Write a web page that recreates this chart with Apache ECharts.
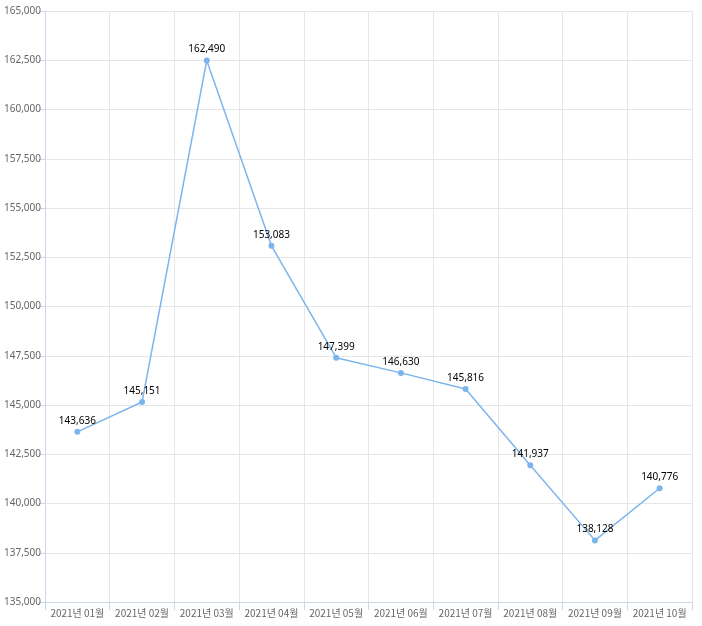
<!DOCTYPE html>
<html><head><meta charset="utf-8">
<script src="https://cdn.jsdelivr.net/npm/echarts@6/dist/echarts.min.js"></script>
<style>html,body{margin:0;padding:0;background:#fff}#c{width:702px;height:626px}</style>
</head><body><div id="c"></div>
<script>
const categories = ['2021년 01월','2021년 02월','2021년 03월','2021년 04월','2021년 05월','2021년 06월','2021년 07월','2021년 08월','2021년 09월','2021년 10월'];
const values = [143636,145151,162490,153083,147399,146630,145816,141937,138128,140776];
const yMin = 135000, yMax = 165000, yStep = 2500;

const chart = echarts.init(document.getElementById('c'), null, {renderer:'canvas'});
const fmt = v => v.toLocaleString('en-US');
chart.setOption({
  animation:false,
  grid:{left:45,right:10,top:11,bottom:24,containLabel:false},
  xAxis:{type:'category',data:categories,boundaryGap:true,
    axisLine:{show:true,lineStyle:{color:'#ccd6eb',width:1}},
    axisTick:{show:true,alignWithLabel:false,length:8,lineStyle:{color:'#ccd6eb'}},
    axisLabel:{color:'#666',fontSize:10,fontFamily:'Noto Sans CJK KR',margin:6,interval:0},
    splitLine:{show:true,lineStyle:{color:'#e6e6e6'}}},
  yAxis:{type:'value',min:yMin,max:yMax,interval:yStep,
    axisLine:{show:true,lineStyle:{color:'#ccd6eb'}},
    axisTick:{show:true,length:6,lineStyle:{color:'#ccd6eb'}},
    axisLabel:{color:'#666',fontSize:10,fontFamily:'Noto Sans',margin:4,formatter:fmt},
    splitLine:{show:true,lineStyle:{color:'#e6e6e6'}}},
  series:[{type:'line',data:values,symbol:'circle',symbolSize:6,
    itemStyle:{color:'#7cb5ec'},lineStyle:{color:'#7cb5ec',width:1.5},
    label:{show:true,position:'top',distance:3,color:'#000',fontSize:10,fontFamily:'Noto Sans',formatter:p=>fmt(p.value)}}]
});
</script></body></html>
